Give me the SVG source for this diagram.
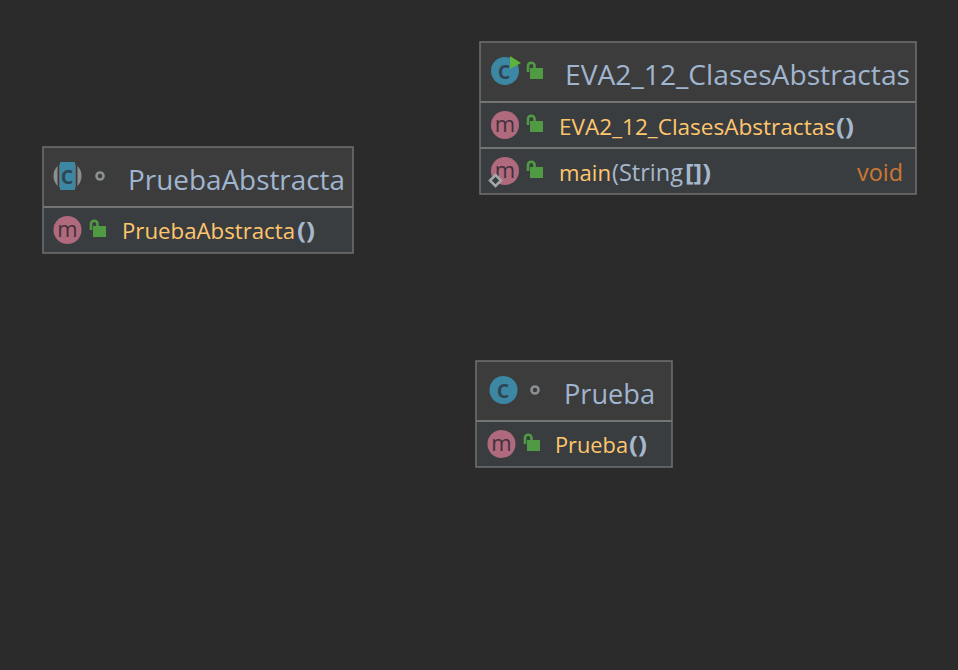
<svg xmlns="http://www.w3.org/2000/svg" width="958" height="670" viewBox="0 0 958 670">
<style>
text{font-family:"Open Sans","Noto Sans","Liberation Sans",sans-serif;white-space:pre}
.box{fill:none;stroke:#6f7070;stroke-width:1.5}
.hd{fill:#3c3c3c}.row{fill:#3a3d40}
.sep{stroke:#737474;stroke-width:2}
.t{font-size:28px;fill:#a0b5cf}
.m{font-size:22px;fill:#ffc66d}
.p{font-size:23px;fill:#a6b8cc}
.b{font-size:24px;font-weight:700}
.v{font-size:23px;fill:#cc7832}
.ci{fill:#3b87a4}.mi{fill:#b06a7e}
.gl{font-size:25px;font-weight:600;fill:#2f4553;text-anchor:middle}
.ml{font-size:22px;fill:#43303a;text-anchor:middle}
.dot{fill:none;stroke:#8a8f92;stroke-width:2.600}
</style>
<defs>
<g id="lock"><path d="M-7 0V-6.500A3.300 3.300 0 0 1 -0.500 -6.500V-4" fill="none" stroke="#4f9a43" stroke-width="2.600"/><rect x="-5" y="-4" width="13" height="11" fill="#4f9a43"/></g>
</defs>
<rect width="958" height="670" fill="#2b2b2b"/>
<g id="connectors"/>
<g id="EVA2_12_ClasesAbstractas">
<rect class="hd" x="480" y="42" width="436" height="60"/>
<rect class="row" x="480" y="102" width="436" height="92"/>
<line class="sep" x1="480" y1="102" x2="916" y2="102"/>
<line class="sep" x1="480" y1="148" x2="916" y2="148"/>
<rect class="box" x="480" y="42" width="436" height="152"/>
<circle class="ci" cx="505" cy="71" r="14"/>
<text class="gl" x="504" y="79">c</text>
<path d="M510 56L521 63L510 69Z" fill="#5fb33c"/>
<use href="#lock" x="535" y="72"/>
<text class="t" x="565" y="85" textLength="345" lengthAdjust="spacingAndGlyphs">EVA2_12_ClasesAbstractas</text>
<circle class="mi" cx="505" cy="125" r="14"/>
<text class="ml" x="505" y="132">m</text>
<use href="#lock" x="535" y="125"/>
<text class="m" x="559" y="135" textLength="276" lengthAdjust="spacingAndGlyphs">EVA2_12_ClasesAbstractas</text>
<text class="p b" x="836" y="135" textLength="18" lengthAdjust="spacingAndGlyphs">()</text>
<circle class="mi" cx="505" cy="171" r="14"/>
<text class="ml" x="505" y="178">m</text>
<path d="M495.500 175L501 180.500L495.500 186L490 180.500Z" fill="#3a3d40" stroke="#a3a8ab" stroke-width="2.500"/>
<use href="#lock" x="535" y="171"/>
<text class="m" x="559" y="181" textLength="52" lengthAdjust="spacingAndGlyphs">main</text>
<text class="p" x="612" y="181" textLength="71" lengthAdjust="spacingAndGlyphs">(String</text>
<text class="p b" x="685" y="181" textLength="26" lengthAdjust="spacingAndGlyphs">[])</text>
<text class="v" x="857" y="181" textLength="46" lengthAdjust="spacingAndGlyphs">void</text>
</g>
<g id="PruebaAbstracta">
<rect class="hd" x="43" y="147" width="310" height="60"/>
<rect class="row" x="43" y="207" width="310" height="46"/>
<line class="sep" x1="43" y1="207" x2="353" y2="207"/>
<rect class="box" x="43" y="147" width="310" height="106"/>
<circle cx="67.500" cy="176" r="14" fill="#8a8f92"/>
<rect x="60" y="162" width="15" height="28" fill="#3b87a4"/>
<rect x="57.500" y="164" width="2" height="24" fill="#3c3c3c"/>
<rect x="75.500" y="164" width="2" height="24" fill="#3c3c3c"/>
<text class="gl" x="67" y="184">c</text>
<circle class="dot" cx="100" cy="176" r="3.500"/>
<text class="t" x="128" y="190" textLength="217" lengthAdjust="spacingAndGlyphs">PruebaAbstracta</text>
<circle class="mi" cx="67.500" cy="230" r="14"/>
<text class="ml" x="67.500" y="237">m</text>
<use href="#lock" x="98" y="230"/>
<text class="m" x="122" y="239" textLength="173" lengthAdjust="spacingAndGlyphs">PruebaAbstracta</text>
<text class="p b" x="297" y="239" textLength="18" lengthAdjust="spacingAndGlyphs">()</text>
</g>
<g id="Prueba">
<rect class="hd" x="476" y="361" width="196" height="60"/>
<rect class="row" x="476" y="421" width="196" height="46"/>
<line class="sep" x1="476" y1="421" x2="672" y2="421"/>
<rect class="box" x="476" y="361" width="196" height="106"/>
<circle class="ci" cx="503.500" cy="390" r="14"/>
<text class="gl" x="503" y="398">c</text>
<circle class="dot" cx="535" cy="390" r="3.500"/>
<text class="t" x="564" y="404" textLength="91" lengthAdjust="spacingAndGlyphs">Prueba</text>
<circle class="mi" cx="501.500" cy="444" r="14"/>
<text class="ml" x="501.500" y="451">m</text>
<use href="#lock" x="532" y="444"/>
<text class="m" x="555" y="453" textLength="73" lengthAdjust="spacingAndGlyphs">Prueba</text>
<text class="p b" x="629" y="453" textLength="18" lengthAdjust="spacingAndGlyphs">()</text>
</g>
</svg>
